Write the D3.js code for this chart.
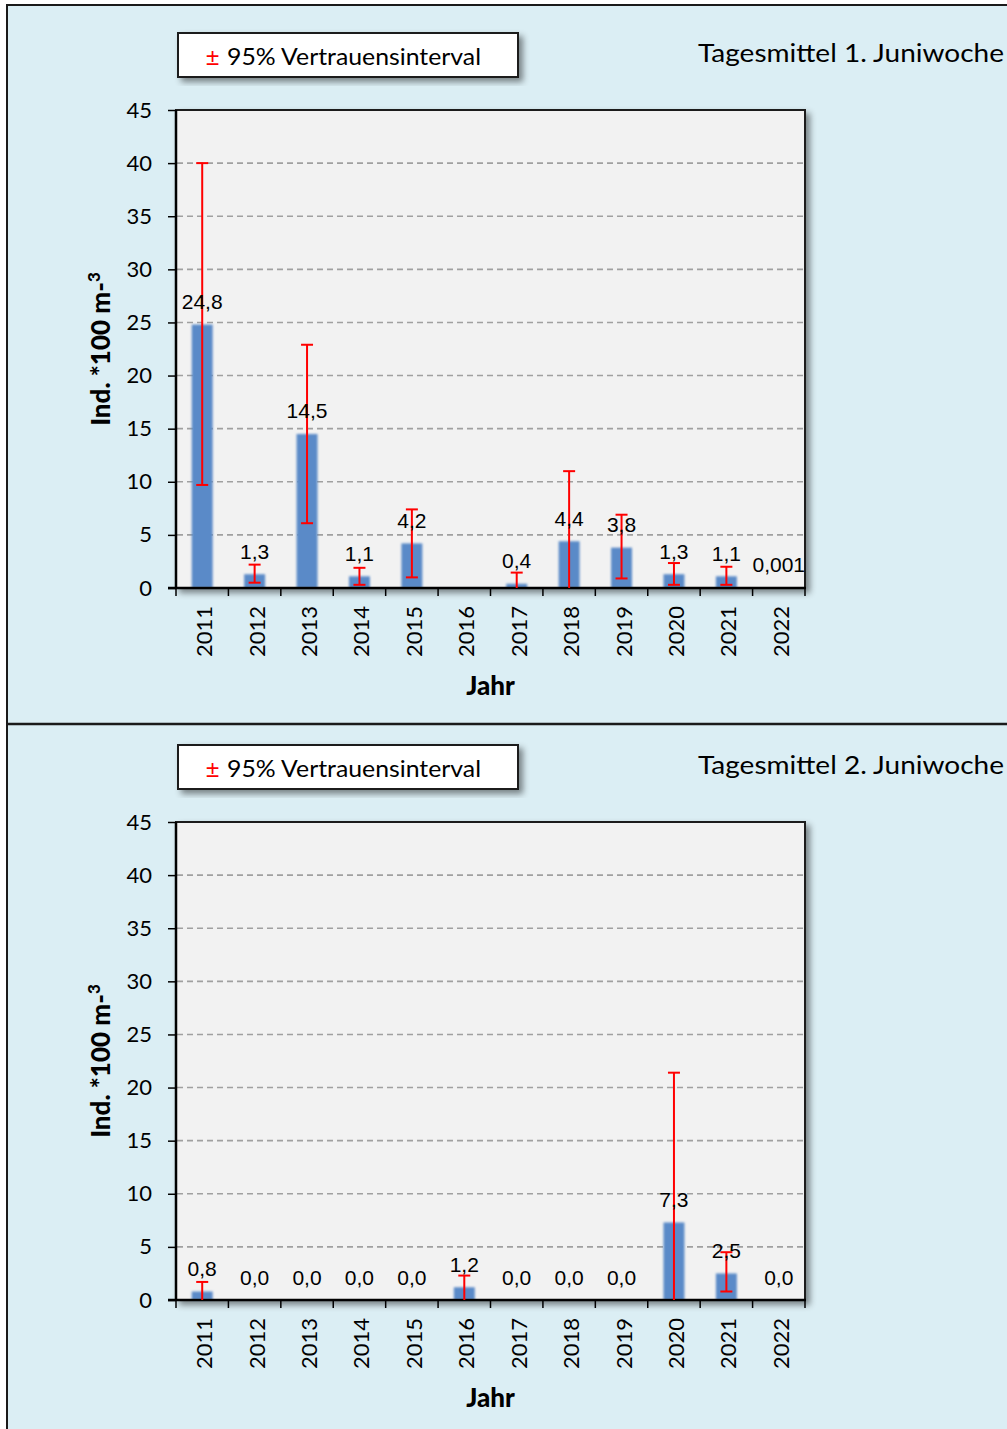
<!DOCTYPE html>
<html><head><meta charset="utf-8">
<script src="https://cdn.jsdelivr.net/npm/d3@7"></script>
<style>body{margin:0;background:#fff}</style>
</head><body>
<svg id="c" width="1007" height="1429"></svg>
<script>
// ---------- DATA ----------
const years = [2011,2012,2013,2014,2015,2016,2017,2018,2019,2020,2021,2022];
const yTicks = [0,5,10,15,20,25,30,35,40,45];

const week1Values = [24.8, 1.3, 14.5, 1.1, 4.2, null, 0.4, 4.4, 3.8, 1.3, 1.1, 0.001];
const week1Lower  = [9.7, 0.5, 6.1, 0.3, 1.0, null, 0, 0, 0.9, 0.3, 0.3, null];
const week1Upper  = [40.0, 2.2, 22.9, 1.9, 7.4, null, 1.45, 11.0, 6.9, 2.35, 2.0, null];
const week1Labels = ["24,8","1,3","14,5","1,1","4,2","","0,4","4,4","3,8","1,3","1,1","0,001"];

const week2Values = [0.8, 0, 0, 0, 0, 1.2, 0, 0, 0, 7.3, 2.5, 0];
const week2Lower  = [0, null, null, null, null, 0, null, null, null, 0, 0.8, null];
const week2Upper  = [1.7, null, null, null, null, 2.3, null, null, null, 21.4, 4.5, null];
const week2Labels = ["0,8","0,0","0,0","0,0","0,0","1,2","0,0","0,0","0,0","7,3","2,5","0,0"];

const titles = ["Tagesmittel 1. Juniwoche", "Tagesmittel 2. Juniwoche"];
const legendText = "95% Vertrauensinterval";
const xTitle = "Jahr";

// ---------- DRAW ----------
const svg = d3.select("#c");
const defs = svg.append("defs");
const f = defs.append("filter").attr("id","sh").attr("x","-10%").attr("y","-10%").attr("width","130%").attr("height","130%");
f.append("feDropShadow").attr("dx",4).attr("dy",4).attr("stdDeviation",3).attr("flood-color","#000").attr("flood-opacity",0.45);
const fb = defs.append("filter").attr("id","blur").attr("x","-20%").attr("y","-5%").attr("width","140%").attr("height","110%");
fb.append("feGaussianBlur").attr("stdDeviation",0.8);

// panels background
svg.append("rect").attr("x",7).attr("y",5).attr("width",1010).attr("height",1440)
  .attr("fill","#dbeef4").attr("stroke","#1a1a1a").attr("stroke-width",2);
svg.append("line").attr("x1",7).attr("x2",1007).attr("y1",724).attr("y2",724)
  .attr("stroke","#1a1a1a").attr("stroke-width",2.5);

const panels = [
  {values:week1Values, lower:week1Lower, upper:week1Upper, labels:week1Labels, title:titles[0]},
  {values:week2Values, lower:week2Lower, upper:week2Upper, labels:week2Labels, title:titles[1]}
];

const x0 = 176, x1 = 805, yTop = 110, yBot = 588;
const x = d3.scaleBand().domain(years).range([x0, x1]).padding(0);
const y = d3.scaleLinear().domain([0,45]).range([yBot, yTop]);
const barW = x.bandwidth()*0.4;
const calib = "Lato, 'Open Sans', sans-serif";
const arial = "'Liberation Sans', Arial, sans-serif";

panels.forEach((p, pi) => {
  const g = svg.append("g").attr("transform", `translate(0,${pi*712})`);

  // legend
  g.append("rect").attr("x",178).attr("y",33).attr("width",340).attr("height",44)
    .attr("fill","#fff").attr("stroke","#1a1a1a").attr("stroke-width",2).attr("filter","url(#sh)");
  g.append("text").attr("x",206).attr("y",65).attr("fill","#ff0000")
    .attr("font-family",arial).attr("font-size",24).text("±");
  g.append("text").attr("x",227).attr("y",65).attr("fill","#000")
    .attr("font-family",calib).attr("font-size",23)
    .attr("textLength",254).attr("lengthAdjust","spacingAndGlyphs").text(legendText);

  // title
  g.append("text").attr("x",698).attr("y",62).attr("fill","#000")
    .attr("font-family",calib).attr("font-size",25)
    .attr("textLength",306).attr("lengthAdjust","spacingAndGlyphs").text(p.title);

  // plot area
  g.append("rect").attr("x",x0).attr("y",yTop).attr("width",x1-x0).attr("height",yBot-yTop)
    .attr("fill","#f2f2f2").attr("stroke","#1a1a1a").attr("stroke-width",2).attr("filter","url(#sh)");

  // grid
  g.append("g").selectAll("line").data(yTicks.filter(v => v>0 && v<45)).join("line")
    .attr("x1",x0+1).attr("x2",x1-1).attr("y1",d=>y(d)).attr("y2",d=>y(d))
    .attr("stroke","#a0a0a0").attr("stroke-width",1.6).attr("stroke-dasharray","6,4");

  // y axis
  const ya = g.append("g").attr("transform",`translate(${x0},0)`)
    .call(d3.axisLeft(y).tickValues(yTicks).tickSize(8).tickPadding(16).tickFormat(d3.format("d")));
  ya.select(".domain").remove();
  ya.selectAll(".tick line").attr("stroke","#000").attr("stroke-width",1.5);
  ya.selectAll(".tick text").attr("font-family",calib).attr("font-size",22).attr("fill","#000");

  // bars
  const idx = d3.range(years.length);
  g.append("g").attr("filter","url(#blur)").selectAll("rect")
    .data(idx.filter(i => p.values[i] != null && p.values[i] > 0)).join("rect")
    .attr("x", i => x(years[i]) + x.bandwidth()/2 - barW/2)
    .attr("width", barW)
    .attr("y", i => y(p.values[i]))
    .attr("height", i => y(0) - y(p.values[i]))
    .attr("fill","#5a8ac8");

  // axes lines
  g.append("line").attr("x1",x0).attr("x2",x0).attr("y1",yTop).attr("y2",yBot+1).attr("stroke","#000").attr("stroke-width",2.5);
  g.append("line").attr("x1",x0-8).attr("x2",x1+1).attr("y1",yBot).attr("y2",yBot).attr("stroke","#000").attr("stroke-width",2.5);
  // x boundary ticks
  const bounds = years.map(d => x(d)).concat([x1]);
  g.append("g").selectAll("line").data(bounds).join("line")
    .attr("x1",d=>d).attr("x2",d=>d).attr("y1",yBot).attr("y2",yBot+8)
    .attr("stroke","#000").attr("stroke-width",1.5);

  // error bars
  const eb = g.append("g").attr("stroke","#ff0000").attr("stroke-width",2);
  idx.filter(i => p.upper[i] != null).forEach(i => {
    const cx = x(years[i]) + x.bandwidth()/2;
    eb.append("line").attr("x1",cx).attr("x2",cx).attr("y1",y(p.lower[i])).attr("y2",y(p.upper[i]));
    eb.append("line").attr("x1",cx-6).attr("x2",cx+6).attr("y1",y(p.upper[i])).attr("y2",y(p.upper[i]));
    if (p.lower[i] > 0)
      eb.append("line").attr("x1",cx-6).attr("x2",cx+6).attr("y1",y(p.lower[i])).attr("y2",y(p.lower[i]));
  });

  // data labels
  g.append("g").selectAll("text").data(idx.filter(i => p.labels[i] !== "")).join("text")
    .attr("x", i => x(years[i]) + x.bandwidth()/2)
    .attr("y", i => y(p.values[i] || 0) - 23)
    .attr("text-anchor","middle").attr("dominant-baseline","central")
    .attr("font-family",arial).attr("font-size",21).attr("fill","#000")
    .text(i => p.labels[i]);

  // x labels
  g.append("g").selectAll("text").data(years).join("text")
    .attr("transform", d => `translate(${x(d)+x.bandwidth()/2+1.5},606) rotate(-90)`)
    .attr("text-anchor","end").attr("dominant-baseline","central")
    .attr("font-family",calib).attr("font-size",22).attr("fill","#000")
    .text(d => d);

  // axis titles
  g.append("text").attr("x",(x0+x1)/2).attr("y",695).attr("text-anchor","middle")
    .attr("font-family",calib).attr("font-weight","900").attr("font-size",26).attr("fill","#000").text(xTitle);
  const yt = g.append("text").attr("transform",`translate(110,${(yTop+yBot)/2}) rotate(-90)`)
    .attr("text-anchor","middle").attr("font-family",calib).attr("font-weight","900").attr("font-size",26).attr("fill","#000");
  yt.append("tspan").text("Ind. *100 m-");
  yt.append("tspan").attr("dy",-10).attr("font-size",17).text("3");
});
</script>
</body></html>
